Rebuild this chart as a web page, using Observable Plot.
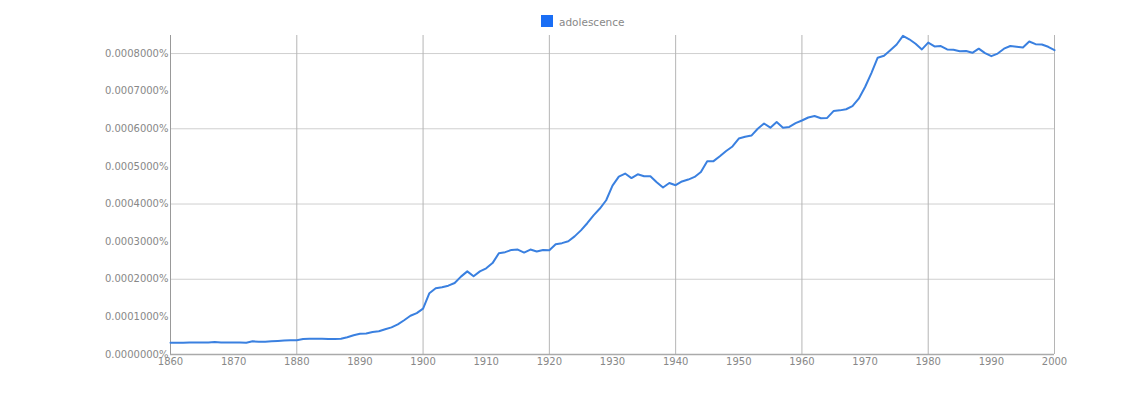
<!DOCTYPE html>
<html>
<head>
<meta charset="utf-8">
<script src="https://cdn.jsdelivr.net/npm/d3@7"></script>
<script src="https://cdn.jsdelivr.net/npm/@observablehq/plot@0.6"></script>
<style>
  html, body { margin: 0; padding: 0; background: #fff; }
  #wrap { position: relative; width: 1142px; height: 399px; font-family: "DejaVu Sans", sans-serif; }
  #legend { position: relative; height: 30px; }
  #legend .sw { position: absolute; left: 541px; top: 15px; width: 12px; height: 12px; background: #1a6ef5; }
  #legend .lb { position: absolute; left: 559px; top: 15px; font-size: 10.5px; color: #888; line-height: 14px; }
</style>
</head>
<body>
<div id="wrap">
  <div id="legend"><div class="sw"></div><div class="lb">adolescence</div></div>
  <div id="chart"></div>
</div>
<script>
const seriesName = "adolescence";
const years = d3.range(1860, 2001);
const values = [
  0.000031,0.000031,0.000031,0.000032,0.000032,0.000032,0.000032,0.000033,0.000032,0.000032,
  0.000032,0.000032,0.000031,0.000035,0.000034,0.000034,0.000035,0.000036,0.000037,0.000038,
  0.000038,0.000041,0.000042,0.000042,0.000042,0.000041,0.000041,0.000042,0.000046,0.000051,
  0.000055,0.000056,0.000060,0.000062,0.000067,0.000072,0.000080,0.000091,0.000103,0.000110,
  0.000122,0.000163,0.000176,0.000179,0.000183,0.000190,0.000207,0.000221,0.000208,0.000221,
  0.000229,0.000243,0.000269,0.000272,0.000278,0.000279,0.000271,0.000279,0.000274,0.000278,
  0.000277,0.000293,0.000296,0.000301,0.000314,0.000330,0.000349,0.000370,0.000388,0.000410,
  0.000449,0.000473,0.000481,0.000469,0.000479,0.000474,0.000474,0.000458,0.000444,0.000456,
  0.000450,0.000460,0.000465,0.000472,0.000485,0.000514,0.000514,0.000527,0.000541,0.000553,
  0.000574,0.000579,0.000582,0.000600,0.000614,0.000603,0.000618,0.000603,0.000605,0.000615,
  0.000622,0.000630,0.000634,0.000628,0.000629,0.000647,0.000649,0.000652,0.000660,0.000680,
  0.000711,0.000748,0.000789,0.000794,0.000809,0.000824,0.000847,0.000838,0.000826,0.000811,
  0.000829,0.000819,0.000820,0.000811,0.000810,0.000806,0.000807,0.000802,0.000813,0.000801,
  0.000793,0.000800,0.000813,0.000820,0.000818,0.000816,0.000832,0.000825,0.000824,0.000818,
  0.000809
];
const xTicks = [1860,1870,1880,1890,1900,1910,1920,1930,1940,1950,1960,1970,1980,1990,2000];
const xGrid = [1880,1900,1920,1940,1960,1980,2000];
const yTicks = [0,0.0001,0.0002,0.0003,0.0004,0.0005,0.0006,0.0007,0.0008];
const yGrid = [0.0002,0.0004,0.0006,0.0008];

const data = years.map((y, i) => ({year: y, value: values[i]}));

const chart = Plot.plot({
  width: 1142,
  height: 369,
  marginTop: 5,
  marginLeft: 170,
  marginRight: 88,
  marginBottom: 45,
  style: {fontFamily: "'DejaVu Sans', sans-serif", fontSize: "10px", color: "#888", background: "#fff"},
  x: {domain: [1860, 2000]},
  y: {domain: [0, 0.000848]},
  marks: [
    Plot.gridY(yGrid, {stroke: "#cfcfcf", strokeOpacity: 1}),
    Plot.gridX(xGrid, {stroke: "#b5b5b5", strokeOpacity: 1}),
    Plot.ruleX([1860], {stroke: "#999"}),
    Plot.ruleY([0], {stroke: "#aaa", strokeWidth: 1.5}),
    Plot.axisY(yTicks, {tickSize: 0, tickPadding: 2, tickFormat: d => d.toFixed(7) + "%", label: null}),
    Plot.axisX(xTicks, {tickSize: 0, tickPadding: 3, tickFormat: d => String(d), label: null}),
    Plot.line(data, {x: "year", y: "value", stroke: "#3a80e0", strokeWidth: 2})
  ]
});
document.getElementById("chart").appendChild(chart);
</script>
</body>
</html>
